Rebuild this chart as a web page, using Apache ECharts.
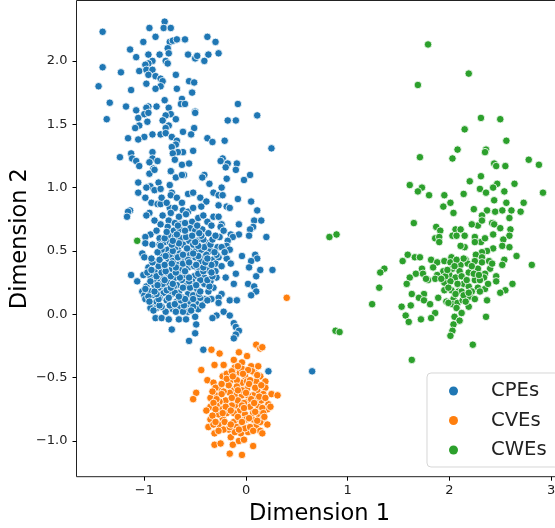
<!DOCTYPE html>
<html><head><meta charset="utf-8">
<style>html,body{margin:0;padding:0;background:#fff}#c{width:555px;height:528px}</style>
<script src="https://cdn.jsdelivr.net/npm/echarts@6/dist/echarts.min.js"></script>
</head><body><div id="c"></div>
<script>
const seriesNames = ['CPEs','CVEs','CWEs'];
const seriesColors = ['#1f77b4','#ff7f0e','#2ca02c'];
const xTicks = [-1,0,1,2,3];
const yTicks = [-1,-0.5,0,0.5,1,1.5,2];
const cpePoints = [[-1.41,2.23],[-.95,2.26],[-.80,2.31],[-.81,2.26],[-.74,2.26],[-.89,2.19],[-1.01,2.15],[-.75,2.15],[-.72,2.16],[-.68,2.17],[-.60,2.17],[-.38,2.19],[-.30,2.15],[-.77,2.10],[-1.14,2.09],[-1.08,2.03],[-.96,2.05],[-.85,2.05],[-.76,2.06],[-.57,2.05],[-.50,2.02],[-.48,2.04],[-.37,2.05],[-.27,2.06],[-.41,2.00],[-.79,2.00],[-.77,1.98],[-.92,2.00],[-.96,1.98],[-.99,1.97],[-1.41,1.95],[-1.23,1.91],[-1.05,1.92],[-.98,1.93],[-.92,1.93],[-.96,1.89],[-.89,1.88],[-.69,1.89],[-.84,1.86],[-.82,1.84],[-.56,1.84],[-.51,1.83],[-.98,1.82],[-.84,1.80],[-.89,1.78],[-1.45,1.80],[-1.13,1.77],[-.68,1.78],[-.53,1.75],[-1.34,1.67],[-.80,1.69],[-.63,1.70],[-.64,1.66],[-.60,1.66],[-1.18,1.64],[-.96,1.64],[-.98,1.63],[-.88,1.64],[-.76,1.63],[-1.08,1.61],[-.50,1.60],[-.50,1.59],[-.08,1.66],[.11,1.57],[-.18,1.53],[-.10,1.53],[-1.37,1.54],[-1.06,1.55],[-1.00,1.58],[-.96,1.59],[-.74,1.58],[-.79,1.57],[-.69,1.54],[-.82,1.53],[-.97,1.52],[-.76,1.49],[-.79,1.47],[-1.05,1.49],[-1.09,1.47],[-.51,1.47],[-.62,1.44],[-.54,1.42],[-.92,1.42],[-.84,1.42],[-.79,1.43],[-1.00,1.40],[-1.06,1.38],[-1.16,1.39],[-.73,1.40],[-.68,1.37],[-.38,1.39],[-.33,1.36],[-.21,1.37],[-.69,1.34],[-.73,1.32],[.25,1.31],[-.52,1.29],[-.62,1.28],[-.67,1.28],[-.72,1.27],[-.92,1.28],[-1.13,1.27],[-1.12,1.23],[-1.24,1.24],[-.92,1.23],[-.87,1.21],[-.95,1.20],[-1.08,1.21],[-1.05,1.17],[-.70,1.22],[-.63,1.18],[-.56,1.19],[-.23,1.23],[-.25,1.21],[-.18,1.19],[-.09,1.19],[-.20,1.16],[-.10,1.14],[-.91,1.15],[-.74,1.13],
[-.95,1.11],[-.90,1.14],[-.74,1.13],[-.69,1.08],[-.61,1.10],[-.63,1.10],[-.41,1.10],[-.43,1.08],[-.19,1.07],[-.02,1.06],[.04,1.10],[-1.06,1.04],[-.86,1.04],[-.94,1.01],[-.98,1.00],[-.75,1.02],[-.36,1.03],[-.24,1.00],[-1.06,.96],[-.99,.92],[-.90,.98],[-.84,.99],[-.93,.88],[-.87,.87],[-.84,.87],[-.73,.96],[-.74,.94],[-.68,.92],[-.57,.95],[-.52,.96],[-.32,.96],[-.27,.94],[-.23,.94],[-.45,.92],[-.39,.89],[-.44,.85],[-.08,.91],[.05,.89],[-.27,.86],[-.19,.85],[-.16,.84],[.11,.82],[-1.14,.82],[-1.16,.81],[-1.17,.77],[-.75,.84],[-.70,.84],[-.62,.82],[-.57,.81],[-.59,.79],[-.95,.80],[-.98,.78],[-.66,.77],[-.32,.77],[-.27,.77],[-.38,.73],[.08,.74],[.15,.74],[.07,.69],[.04,.67],[-.07,.71],[-.24,.71],[-.25,.69],[-.76,.74],[-.90,.74],[-.84,.71],[-.77,.69],[-.70,.72],[-.64,.71],[-.53,.73],[-.71,.66],[-.65,.67],[-.55,.68],[-.50,.66],[-.43,.67],[-.37,.64],[-.07,.63],[.03,.62],[-.15,.63],[-.13,.61],[-.26,.61],[.20,.61],[-.94,.63],[-.99,.61],[-.99,.56],[-.92,.55],[-.85,.60],[-.76,.62],[-.85,.55],[-.80,.57],[-.70,.61],[-.64,.60],[-.56,.58],[-.48,.58],[-.38,.56],[-.18,.58],[-.19,.54],[-.28,.53],[-.16,.51],[-.67,.52],[-.77,.51],[-.56,.50],[-.49,.51],[-.35,.50],[-1.02,.48],[-1.00,.45],[-.83,.46],[-.89,.41],[-.70,.46],[-.64,.42],[-.50,.45],[-.43,.44],[-.33,.43],[-.27,.45],[-.19,.44],[-.04,.46],[.09,.47],[.11,.44],[.05,.42],[.03,.37],[.14,.35],[.26,.35],[.10,.30],[-.10,.32],[-.96,.37],[-.76,.42],[-.83,.36],[-.57,.37],[-.47,.36],[-.38,.35],[-.30,.40],[-1.13,.31],[-1.01,.31],[-1.07,.26],[-.94,.30],[-.86,.28],[-.78,.30],[-.71,.28],[-.63,.27],[-.51,.30],[-.41,.29],[-.29,.29],[-.20,.29],[-.12,.24],[.02,.24],[.08,.22],[.10,.18],[.05,.15],[-.90,.23],[-.83,.22],[-.77,.25],[-.68,.23],[-.58,.23],[-.48,.20],[-.41,.24],[-.32,.21],[-.98,.22],[-1.02,.18],[-1.00,.15],[-.90,.15],[-.81,.17],[-.73,.16],[-.66,.17],[-.57,.16],[-.24,.16],[-.27,.13],[-.34,.12],[-.41,.12],[-.16,.11],[-.09,.11],[-.99,.12],[-.91,.09],[-.78,.11],[-.62,.13],[-.49,.09],[-.45,.13],[-.27,.09],[-.94,.05],[-.88,.05],[-.79,.02],[-.72,.04],[-.65,.06],[-.58,.08],[-.57,.02],[-.47,.04],[-.22,.02],[-.29,-.01],[-.16,-.01],[-.33,-.03],[-.89,-.03],[-.83,-.03],[-.76,-.04],[-.66,-.04],[-.59,-.04],[-.50,-.02],[-.49,-.08],[-.12,-.07],[-.10,-.10],[-.07,-.13],[-.10,-.16],[-.12,-.19],[-.73,-.12],[-.50,-.15],[-.56,-.21],[-.42,-.28],[.22,-.45],[.65,-.45],
[-.94,.18],[-.86,.21],[-.78,.19],[-.62,.21],[-.53,.26],[-.45,.27],[-.52,.15],[-.88,.10],[-.83,.06],[-.68,.10],[-.55,.10],[-.71,.22],[-.60,.31],[-.67,.34],[-.73,.36],[-.53,.39],[-.63,.36],[-.90,.34],[-.81,.28],[-.68,.39],[-.60,.44],[-.55,.47],[-.45,.42],[-.39,.47],[-.75,.57],[-.62,.55],[-.52,.55],[-.42,.59],[-.70,.52],[-.91,.27],[-.96,.14],[-.85,.13],[-.75,.07],[-.62,.02],[-.52,.06],[-.37,.18],[-.35,.26],[-.30,.34],[-.34,.39],[-.75,.47],[-.83,.51],[-.65,.48],[-.44,.51],[-.29,.47],
[-.91,.03],[-.85,.07],[-.69,.02],[-.61,.07],[-.54,.03],[-.95,.10],[-.86,.12],[-.70,.08],[-.64,.11],[-.52,.12],[-.43,.07],[-.88,.16],[-.76,.13],[-.70,.17],[-.60,.12],[-.46,.16],[-.38,.11],[-.99,.20],[-.90,.18],[-.82,.24],[-.74,.21],[-.66,.14],[-.55,.21],[-.45,.18],[-.36,.22],[-.94,.26],[-.87,.23],[-.80,.27],[-.72,.24],[-.65,.29],[-.56,.26],[-.49,.23],[-.38,.27],[-.97,.33],[-.88,.30],[-.83,.33],[-.74,.30],[-.69,.33],[-.56,.29],[-.47,.32],[-.42,.34],[-.33,.30],[-.93,.35],[-.86,.38],[-.79,.34],[-.69,.37],[-.60,.34],[-.51,.38],[-.42,.37],[-.34,.33],[-.92,.41],[-.85,.43],[-.80,.39],[-.72,.42],[-.62,.40],[-.57,.43],[-.49,.39],[-.40,.41],[-.93,.44],[-.79,.46],[-.73,.40],[-.67,.45],[-.56,.41],[-.47,.46],[-.38,.44],[-.87,.49],[-.72,.50],[-.62,.47],[-.52,.48],[-.41,.53],[-.31,.49],[-.84,.54],[-.73,.55],[-.66,.56],[-.58,.52],[-.47,.54],[-.35,.55],[-.24,.53],[-.80,.60],[-.72,.58],[-.59,.61],[-.50,.57],[-.44,.62],[-.33,.59],[-.78,.65],[-.68,.63],[-.60,.66],[-.53,.62],[-.46,.64],
[-.88,.66],[-.82,.78],[-.74,.80],[-.67,.70],[-.60,.72],[-.47,.76],[-.42,.78],[-.83,.92],[-.78,.88],[-.63,.88],[-.52,.84],[-.48,.70],[-.34,.70],[-.30,.62],[-.22,.66],[-.21,.49],[-.24,.38],[-.15,.40]];
const cvePoints = [[-.34,-.28],[-.26,-.31],[-.07,-.30],[.10,-.24],[.14,-.27],[.16,-.26],[.01,-.33],[-.12,-.36],[-.04,-.38],[-.31,-.40],[-.22,-.40],[-.44,-.44],[-.11,-.42],[.05,-.41],[.12,-.41],[-.23,-.49],[-.11,-.48],[-.06,-.46],[-.01,-.49],[.08,-.46],[-.38,-.52],[-.32,-.54],[-.15,-.52],[-.04,-.54],[.06,-.53],[.14,-.49],[.19,-.53],[-.26,-.58],[-.12,-.60],[.01,-.59],[.11,-.60],[.19,-.58],[-.49,-.62],[-.52,-.67],[-.30,-.64],[-.35,-.66],[-.20,-.68],[-.11,-.64],[-.04,-.64],[.07,-.64],[.25,-.63],[.31,-.64],[.17,-.63],[.01,-.69],[-.09,-.72],[-.14,-.72],[-.35,-.73],[-.24,-.75],[-.39,-.76],[-.06,-.76],[.04,-.73],[.12,-.72],[.22,-.71],[.21,-.75],[.12,-.79],[-.01,-.79],[.07,-.83],[.16,-.83],[-.35,-.83],[-.23,-.82],[-.12,-.85],[0,-.83],[-.27,-.87],[-.17,-.91],[-.37,-.89],[.21,-.87],[.10,-.88],[-.31,-.94],[-.05,-.94],[-.15,-.97],[.02,-.93],[.14,-.92],[.16,-.94],[-.09,-.89],[-.31,-1.03],[-.25,-1.02],[-.13,-1.03],[-.07,-1.00],[.07,-1.04],[-.02,-.99],[-.16,-1.10],[-.04,-1.11],
[-.19,-.78],[-.30,-.78],[-.26,-.69],[-.16,-.62],[-.04,-.60],[-.22,-.61],[-.08,-.68],[-.29,-.72],[.02,-.64],[.15,-.68],[-.12,-.78],[-.06,-.83],[-.21,-.85],[-.27,-.79],[.09,-.68],[-.17,-.56],[-.09,-.52],[.01,-.53],[.10,-.53],[-.19,-.47],[.06,-.45],[-.04,-.43],[-.14,-.45],[-.30,-.58],[-.19,-.74],[.07,-.78],[-.01,-.90],[-.11,-.93],[-.22,-.91],[.14,-.85],[.04,-.89],[-.16,-.89],[-.32,-.87],[.24,-.73],[.40,.13],
[-.08,-.41],[.02,-.44],[-.19,-.51],[-.13,-.49],[-.03,-.47],[.04,-.52],[.11,-.48],[-.24,-.55],[-.09,-.57],[.03,-.55],[.09,-.58],[.15,-.56],[-.33,-.61],[-.24,-.63],[-.08,-.60],[0,-.62],[.13,-.65],[-.29,-.67],[-.14,-.66],[-.02,-.70],[.05,-.67],[.19,-.66],[-.32,-.70],[-.20,-.73],[-.04,-.72],[.08,-.70],[.16,-.74],[-.30,-.75],[-.15,-.76],[-.02,-.74],[.09,-.77],[.17,-.78],[-.33,-.80],[-.23,-.78],[-.08,-.81],[.03,-.82],[.18,-.81],[-.30,-.85],[-.15,-.87],[-.04,-.85],[.11,-.84],[-.27,-.92],[-.07,-.91],[.07,-.92]];
const cwePoints = [[1.79,2.13],[2.19,1.90],[1.69,1.81],[2.31,1.55],[2.50,1.54],[2.15,1.46],[2.56,1.37],[2.08,1.30],[2.36,1.30],[2.35,1.28],[1.71,1.24],[2.03,1.23],[2.44,1.19],[2.46,1.17],[2.55,1.17],[2.78,1.22],[2.88,1.18],[2.31,1.09],[2.20,1.05],[1.61,1.02],[1.73,1.00],[1.69,.97],[1.80,.94],[1.95,.94],[2.14,.95],[2.30,.99],[2.47,1.03],[2.43,1.00],[2.36,.96],[2.54,.97],[2.64,1.03],[2.92,.96],[2.44,.90],[2.01,.88],[1.94,.85],[2.56,.88],[2.73,.88],[2.24,.83],[2.37,.82],[2.45,.81],[2.52,.82],[2.61,.82],[2.70,.81],[2.04,.80],[2.32,.78],[2.59,.76],
[1.65,.72],[1.87,.69],[1.91,.66],[2.28,.70],[2.22,.71],[2.32,.74],[2.42,.72],[2.44,.71],[2.50,.68],[2.60,.67],[2.06,.67],[2.11,.67],[2.03,.62],[2.07,.62],[2.15,.62],[2.25,.61],[1.86,.60],[1.90,.61],[1.90,.57],[2.31,.57],[2.25,.57],[2.43,.63],[2.59,.62],[2.53,.59],[2.35,.60],[2.15,.53],[2.11,.54],[2.52,.54],[2.59,.53],[2.43,.52],[2.37,.50],[2.32,.49],[2.26,.47],[2.66,.46],[2.54,.43],[2.52,.39],[2.81,.39],[1.59,.47],[1.66,.45],[1.71,.45],[1.54,.42],[1.82,.43],[1.88,.41],[1.95,.42],[2.02,.45],[2.01,.41],[2.11,.39],[2.16,.43],[2.18,.40],[2.25,.42],[2.32,.45],[2.32,.41],[2.39,.42],[1.73,.36],[1.36,.36],[1.32,.33],[1.67,.32],[1.61,.29],[1.74,.32],[1.94,.34],[2.03,.36],[2.10,.34],[2.19,.33],[2.28,.36],[2.40,.36],[2.35,.32],[1.88,.31],[2.00,.31],[2.06,.29],[1.86,.28],[1.79,.27],[1.77,.28],[2.25,.27],[2.34,.29],[2.46,.30],[2.46,.26],[1.58,.24],[1.95,.25],[2.01,.26],[2.14,.24],[2.19,.22],[2.28,.21],[2.35,.20],[2.62,.24],[2.55,.19],[2.50,.17],[1.31,.21],[1.95,.19],[2.02,.19],[2.09,.18],[2.12,.18],[2.22,.18],[1.63,.16],[1.75,.16],[1.70,.13],[1.75,.11],[1.89,.13],[2.04,.12],[2.20,.14],[1.81,.08],[1.97,.10],[2.03,.08],[2.08,.09],[2.13,.11],[2.19,.06],[2.37,.11],[1.24,.08],[1.53,.06],[1.62,.07],[1.86,.01],[2.07,.05],[2.12,.01],[1.57,-.01],[1.72,-.04],[1.82,-.03],[2.05,-.02],[2.10,-.05],[2.36,-.02],[1.60,-.06],[2.04,-.08],[2.03,-.13],[2.01,-.17],[.88,-.13],[.92,-.14],[2.23,-.24],[1.63,-.36],[.82,.61],[.89,.63],[-1.07,.58],
[2.14,.44],[2.07,.43],[2.24,.32],[2.30,.27],[1.99,.09],[2.14,.15],[2.19,.17],[1.96,.30],[2.30,.18],[2.05,.38],[1.98,.35],[2.22,.38],[2.12,.30],[2.29,.31],[2.08,.24],[2.17,.27],[1.99,.21],[2.06,.16],[2.16,.10],[1.92,.28],[2.38,.24],[2.25,.12],[1.84,.37],[2.42,.40]];

const minus = v => String(v).replace('-', '\u2212');
const yFmt = v => minus(Number(v).toFixed(1));
const font = 'DejaVu Sans';
const axisCommon = {
  type:'value', nameLocation:'middle', nameMoveOverlap:false,
  nameTextStyle:{fontFamily:font,fontSize:22.5,color:'#000'},
  axisLine:{show:false,onZero:false},
  splitLine:{show:false}
};
const chart = echarts.init(document.getElementById('c'),null,{renderer:'canvas'});
chart.setOption({
  animation:false,
  backgroundColor:'#fff',
  grid:{left:76.5,top:0.5,width:486,height:476.2,outerBoundsMode:'none',containLabel:false,show:true,borderColor:'#222',borderWidth:1,backgroundColor:'transparent'},
  xAxis:Object.assign({},axisCommon,{name:'Dimension 1',nameGap:26,min:-1.667,max:3.112,
    axisTick:{show:true,length:4,lineStyle:{color:'#000',width:1},customValues:xTicks},
    axisLabel:{show:true,fontFamily:font,fontSize:13,color:'#222',margin:7,customValues:xTicks,formatter:v=>minus(v)}}),
  yAxis:Object.assign({},axisCommon,{name:'Dimension 2',nameGap:45,min:-1.282,max:2.477,
    axisTick:{show:true,length:4,lineStyle:{color:'#000',width:1},customValues:yTicks},
    axisLabel:{show:true,fontFamily:font,fontSize:13,color:'#222',margin:9,customValues:yTicks,formatter:yFmt}}),
  legend:{
    left:427,top:373,orient:'vertical',padding:[8,12,7,22],itemGap:9.5,
    itemWidth:9,itemHeight:9,icon:'circle',
    itemStyle:{borderWidth:0},
    backgroundColor:'rgba(255,255,255,0.8)',borderColor:'rgba(204,204,204,0.8)',borderWidth:1,borderRadius:4,
    textStyle:{fontFamily:font,fontSize:19.6,color:'#222',lineHeight:20,padding:[0,0,0,28]},
    data:seriesNames
  },
  series:[cpePoints,cvePoints,cwePoints].map((d,i)=>({
    type:'scatter',name:seriesNames[i],data:d,symbol:'circle',symbolSize:7.5,
    itemStyle:{color:seriesColors[i],opacity:1,borderColor:'#fff',borderWidth:0.8},
    emphasis:{disabled:true}
  }))
});
</script></body></html>
